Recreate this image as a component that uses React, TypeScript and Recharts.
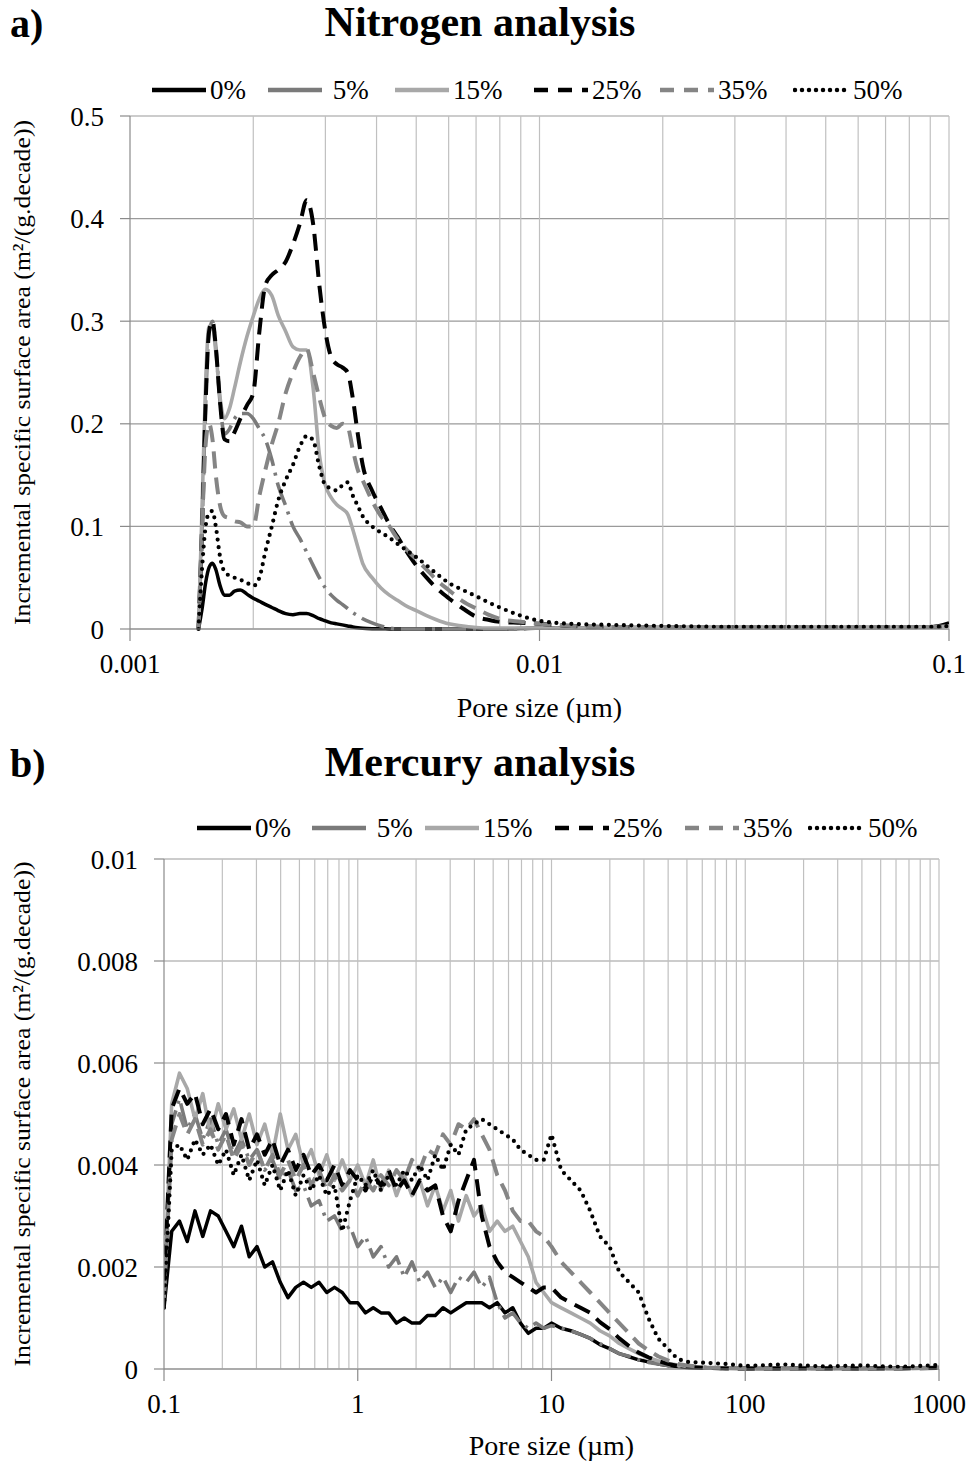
import React from 'react';
import { LineChart, Line, XAxis, YAxis, CartesianGrid, ReferenceLine, Legend, Label } from 'recharts';

const SERIF = '"Liberation Serif", "Times New Roman", serif';

// ---------- series definitions ----------
const seriesNames = ['0%', ' 5%', '15%', '25%', '35%', '50%'];
const seriesKeys = ['s0', 's5', 's15', 's25', 's35', 's50'];

// ---------- Nitrogen analysis (a) ----------
const nX = [0.00147, 0.0015, 0.00153, 0.00156, 0.00159, 0.00162, 0.00166, 0.0017, 0.00175, 0.0018,
  0.00186, 0.00193, 0.002, 0.00207, 0.00214, 0.00222, 0.0023, 0.0024, 0.0025, 0.0026,
  0.0027, 0.0028, 0.0029, 0.003, 0.0031, 0.0032, 0.0033, 0.0034, 0.0035, 0.0036,
  0.0037, 0.0039, 0.0041, 0.0043, 0.0045, 0.0048, 0.005, 0.0053, 0.0056, 0.006,
  0.0065, 0.007, 0.0075, 0.008, 0.009, 0.01, 0.012, 0.015, 0.02, 0.03,
  0.04, 0.05, 0.06, 0.07, 0.08, 0.09, 0.1];

const n0 = [0, 0.02, 0.045, 0.06, 0.064, 0.058, 0.042, 0.033, 0.033, 0.037,
  0.038, 0.034, 0.03, 0.027, 0.024, 0.021, 0.018, 0.015, 0.014, 0.015,
  0.015, 0.013, 0.01, 0.008, 0.006, 0.005, 0.004, 0.003, 0.002, 0.0012,
  0.0007, 0.0003, 0.0002, 0.0001, 0, 0, 0, 0, 0, 0,
  0, 0, 0, 0, 0.0005, 0.001, 0.001, 0.0015, 0.0015, 0.0015,
  0.0015, 0.0015, 0.0015, 0.0015, 0.002, 0.002, 0.006];

const n5 = [0, 0.1, 0.22, 0.29, 0.3, 0.275, 0.22, 0.19, 0.195, 0.205,
  0.21, 0.21, 0.205, 0.195, 0.185, 0.165, 0.14, 0.12, 0.1, 0.088,
  0.075, 0.062, 0.05, 0.04, 0.033, 0.028, 0.024, 0.02, 0.016, 0.013,
  0.01, 0.006, 0.003, 0.001, 0, 0, 0, 0, 0, 0,
  0, 0, 0, 0, 0, 0.001, 0.001, 0.001, 0.0015, 0.0015,
  0.0015, 0.0015, 0.0015, 0.0015, 0.0015, 0.002, 0.003];

const n15 = [0, 0.12, 0.24, 0.295, 0.295, 0.27, 0.225, 0.205, 0.215, 0.235,
  0.26, 0.285, 0.305, 0.322, 0.331, 0.325, 0.306, 0.29, 0.275, 0.272,
  0.272, 0.235, 0.17, 0.14, 0.128, 0.121, 0.117, 0.112, 0.097, 0.08,
  0.064, 0.05, 0.04, 0.033, 0.028, 0.021, 0.018, 0.013, 0.009, 0.005,
  0.003, 0.0015, 0.001, 0.001, 0.001, 0.001, 0.001, 0.0015, 0.0015, 0.0015,
  0.0015, 0.0015, 0.0015, 0.0015, 0.002, 0.002, 0.003];

const n25 = [0, 0.1, 0.22, 0.29, 0.3, 0.275, 0.22, 0.185, 0.183, 0.192,
  0.205, 0.218, 0.23, 0.29, 0.335, 0.345, 0.35, 0.358, 0.375, 0.395,
  0.418, 0.395, 0.335, 0.29, 0.265, 0.258, 0.255, 0.25, 0.225, 0.19,
  0.16, 0.135, 0.118, 0.102, 0.09, 0.072, 0.062, 0.05, 0.04, 0.03,
  0.02, 0.012, 0.009, 0.007, 0.006, 0.005, 0.003, 0.002, 0.002, 0.002,
  0.002, 0.002, 0.002, 0.002, 0.002, 0.002, 0.003];

const n35 = [0, 0.1, 0.18, 0.2, 0.185, 0.15, 0.12, 0.11, 0.108, 0.105,
  0.104, 0.1, 0.1, 0.13, 0.155, 0.18, 0.2, 0.23, 0.25, 0.265,
  0.273, 0.25, 0.225, 0.205, 0.198, 0.196, 0.2, 0.197, 0.175, 0.155,
  0.145, 0.125, 0.11, 0.1, 0.088, 0.075, 0.068, 0.058, 0.048, 0.038,
  0.027, 0.02, 0.014, 0.01, 0.007, 0.005, 0.003, 0.002, 0.002, 0.002,
  0.002, 0.002, 0.002, 0.002, 0.002, 0.002, 0.003];

const n50 = [0, 0.06, 0.1, 0.113, 0.115, 0.1, 0.07, 0.056, 0.052, 0.05,
  0.048, 0.045, 0.042, 0.05, 0.075, 0.1, 0.125, 0.145, 0.16, 0.178,
  0.188, 0.184, 0.158, 0.14, 0.137, 0.135, 0.14, 0.143, 0.13, 0.12,
  0.11, 0.1, 0.094, 0.089, 0.083, 0.075, 0.07, 0.062, 0.054, 0.045,
  0.038, 0.032, 0.026, 0.021, 0.013, 0.008, 0.005, 0.004, 0.003, 0.002,
  0.002, 0.002, 0.002, 0.002, 0.002, 0.002, 0.003];

const nXTicks = [0.001, 0.01, 0.1];
const nXMinor = [0.002, 0.003, 0.004, 0.005, 0.006, 0.007, 0.008, 0.009, 0.01,
  0.02, 0.03, 0.04, 0.05, 0.06, 0.07, 0.08, 0.09, 0.1];
const nYTicks = [0, 0.1, 0.2, 0.3, 0.4, 0.5];

// ---------- Mercury analysis (b) ----------
const mX = [0.1, 0.1096, 0.1202, 0.1318, 0.1445, 0.1585, 0.1738, 0.1905, 0.2089, 0.2291,
  0.2512, 0.2754, 0.302, 0.3311, 0.3631, 0.3981, 0.4365, 0.4786, 0.5248, 0.5754,
  0.631, 0.6918, 0.7586, 0.8318, 0.912, 1, 1.096, 1.202, 1.318, 1.445,
  1.585, 1.738, 1.905, 2.089, 2.291, 2.512, 2.754, 3.02, 3.311, 3.631,
  3.981, 4.365, 4.786, 5.248, 5.754, 6.31, 6.918, 7.586, 8.318, 9.12,
  10, 11.22, 12.59, 14.13, 15.85, 17.78, 19.95, 22.39, 25.12, 28.18,
  31.62, 35.48, 39.81, 44.67, 50.12, 63.1, 79.43, 100, 158.5, 251.2,
  398.1, 631, 1000];

const m0 = [0.0012, 0.0027, 0.0029, 0.0025, 0.0031, 0.0026, 0.0031, 0.003, 0.0027, 0.0024,
  0.0028, 0.0022, 0.0024, 0.002, 0.0021, 0.0017, 0.0014, 0.0016, 0.0017, 0.0016,
  0.0017, 0.0015, 0.0016, 0.0015, 0.0013, 0.0013, 0.0011, 0.0012, 0.0011, 0.0011,
  0.0009, 0.001, 0.0009, 0.0009, 0.00105, 0.00105, 0.0012, 0.0011, 0.0012, 0.0013,
  0.0013, 0.0013, 0.0012, 0.0013, 0.0011, 0.0012, 0.0009, 0.0007, 0.0008, 0.0008,
  0.0009, 0.0008, 0.00075, 0.00068, 0.0006, 0.00048, 0.0004, 0.0003, 0.00024, 0.00018,
  0.00014, 0.0001, 0.00007, 0.00005, 0.00003, 0.00002, 0.00002, 0.00001, 0.00001, 0.00002,
  0.00001, 0.00002, 0.00003];

const m5 = [0.0014, 0.0048, 0.0053, 0.0047, 0.005, 0.0045, 0.0049, 0.0044, 0.0047, 0.0042,
  0.0045, 0.0041, 0.0043, 0.0039, 0.0041, 0.0037, 0.0039, 0.0035, 0.0036, 0.0032,
  0.0033, 0.0029, 0.003, 0.0027, 0.0028, 0.0024, 0.0026, 0.0022, 0.0024, 0.002,
  0.0022, 0.0018, 0.0021, 0.0017, 0.0019, 0.0016, 0.0018, 0.0015, 0.0018, 0.0017,
  0.0019, 0.0016, 0.0018, 0.0013, 0.001, 0.0011, 0.0009, 0.0008, 0.0009, 0.0008,
  0.00085, 0.0008, 0.00075, 0.00068, 0.0006, 0.0005, 0.0004, 0.0003, 0.00025, 0.00018,
  0.00013, 0.0001, 0.00007, 0.00005, 0.00003, 0.00002, 0.00001, 0.00001, 0.00002, 0.00001,
  0.00001, 0.00002, 0.00002];

const m15 = [0.0015, 0.0052, 0.0058, 0.0055, 0.0049, 0.0054, 0.0046, 0.0052, 0.0047, 0.0051,
  0.0045, 0.005, 0.0044, 0.0048, 0.0042, 0.005, 0.0043, 0.0046, 0.004, 0.0043,
  0.0038, 0.0042, 0.0037, 0.0041, 0.0037, 0.004, 0.0036, 0.0041, 0.0035, 0.0039,
  0.0034, 0.0038, 0.0034, 0.0037, 0.0032, 0.0036, 0.0031, 0.0035, 0.0029, 0.0034,
  0.003, 0.0032, 0.0027, 0.0029, 0.0027, 0.0028, 0.0025, 0.0022, 0.0017, 0.0015,
  0.0013, 0.0012, 0.0011, 0.001, 0.0009, 0.00075, 0.00065, 0.0005, 0.0004, 0.0003,
  0.00022, 0.00016, 0.00011, 0.00008, 0.00005, 0.00003, 0.00002, 0.00001, 0.00001, 0.00001,
  0.00001, 0.00001, 0.00002];

const m25 = [0.0016, 0.0051, 0.0055, 0.0052, 0.0054, 0.0048, 0.0051, 0.0047, 0.005, 0.0044,
  0.0049, 0.0043, 0.0046, 0.0042, 0.0045, 0.004, 0.0043, 0.0039, 0.0042, 0.0038,
  0.004, 0.0037, 0.004, 0.0036, 0.0039, 0.0037, 0.0035, 0.0038, 0.0036, 0.0039,
  0.0035, 0.0037, 0.0034, 0.0037, 0.0035, 0.0036, 0.003, 0.0027, 0.0033, 0.0037,
  0.0041, 0.003, 0.0024, 0.0021, 0.0019, 0.0018, 0.0017, 0.0016, 0.0015, 0.0016,
  0.0016, 0.0014, 0.0013, 0.0012, 0.0011, 0.00092, 0.00078, 0.0006, 0.00045, 0.00032,
  0.00023, 0.00016, 0.0001, 0.00006, 0.00004, 0.00002, 0.00001, 0.00001, 0.00001, 0.00001,
  0.00001, 0.00001, 0.00002];

const m35 = [0.0014, 0.0045, 0.005, 0.0046, 0.0049, 0.0044, 0.0047, 0.0043, 0.0046, 0.0041,
  0.0044, 0.004, 0.0043, 0.0039, 0.0042, 0.0038, 0.0041, 0.0037, 0.004, 0.0036,
  0.0039, 0.0035, 0.0038, 0.0035, 0.0037, 0.0034, 0.0037, 0.0035, 0.0038, 0.0036,
  0.0039, 0.0037, 0.0041, 0.0039, 0.0043, 0.0042, 0.0046, 0.0044, 0.0048, 0.0047,
  0.0049, 0.0046, 0.0043, 0.0038, 0.0035, 0.0031, 0.0029, 0.0029, 0.0027, 0.0026,
  0.0024, 0.0021, 0.0019, 0.0017, 0.0015, 0.0013, 0.0011, 0.0009, 0.0007, 0.0005,
  0.00037, 0.00025, 0.00017, 0.0001, 0.00007, 0.00003, 0.00002, 0.00001, 0.00001, 0.00001,
  0.00001, 0.00001, 0.00002];

const m50 = [0.0012, 0.0043, 0.0044, 0.0041, 0.0045, 0.0042, 0.0044, 0.004, 0.0043, 0.0038,
  0.0042, 0.0037, 0.0041, 0.0036, 0.004, 0.0035, 0.0039, 0.0034, 0.0038, 0.0035,
  0.0038, 0.0034, 0.0036, 0.0027, 0.0033, 0.0038, 0.0036, 0.0039, 0.0035, 0.0038,
  0.0036, 0.0039, 0.0037, 0.004, 0.0037, 0.0042, 0.0039, 0.0044, 0.0042, 0.0047,
  0.0048, 0.0049, 0.0048, 0.0047, 0.0046, 0.0045, 0.0043, 0.0042, 0.0041, 0.0041,
  0.0046, 0.0039, 0.0037, 0.0035, 0.0031, 0.0026, 0.0024, 0.0019, 0.0017, 0.0015,
  0.001, 0.0006, 0.0004, 0.0002, 0.00014, 0.00012, 0.0001, 0.00006, 0.00009, 0.00005,
  0.00007, 0.00004, 0.00008];

const mXTicks = [0.1, 1, 10, 100, 1000];
const mXMinor = [0.2, 0.3, 0.4, 0.5, 0.6, 0.7, 0.8, 0.9, 1,
  2, 3, 4, 5, 6, 7, 8, 9, 10,
  20, 30, 40, 50, 60, 70, 80, 90, 100,
  200, 300, 400, 500, 600, 700, 800, 900, 1000];
const mYTicks = [0, 0.002, 0.004, 0.006, 0.008, 0.01];

// ---------- tables built from the arrays ----------
const nitrogenData = nX.map((x, i) => ({ x, s0: n0[i], s5: n5[i], s15: n15[i], s25: n25[i], s35: n35[i], s50: n50[i] }));
const mercuryData = mX.map((x, i) => ({ x, s0: m0[i], s5: m5[i], s15: m15[i], s25: m25[i], s35: m35[i], s50: m50[i] }));

// ---------- styles ----------
type Sty = { stroke: string; dash?: string; width: number; cap: 'butt' | 'round' };
const lineStyles: Sty[] = [
  { stroke: '#000000', width: 3.5, cap: 'butt' },
  { stroke: '#7a7a7a', dash: '24 7 3 7', width: 3.6, cap: 'butt' },
  { stroke: '#a8a8a8', width: 3.6, cap: 'butt' },
  { stroke: '#000000', dash: '17 9', width: 4, cap: 'butt' },
  { stroke: '#858585', dash: '17 9', width: 4, cap: 'butt' },
  { stroke: '#000000', dash: '0 7.5', width: 4.2, cap: 'round' },
];
const legendDash = [undefined, '40 0', undefined, '14 10', '14 10', '0 7'];

const GRID_H = '#9a9a9a';
const GRID_V = '#c0c0c0';
const AXIS = '#8a8a8a';

const makeLegend = (positions: number[]) => () => (
  <div style={{ position: 'relative', width: 971, height: 30 }}>
    {seriesNames.map((name, i) => (
      <div key={i} style={{ position: 'absolute', left: positions[i], top: 0, height: 30, display: 'flex', alignItems: 'center' }}>
        <svg width={58} height={30} style={{ display: 'block' }}>
          <line x1={2} y1={15} x2={56} y2={15} stroke={lineStyles[i].stroke} strokeWidth={4.5}
            strokeDasharray={legendDash[i]} strokeLinecap={lineStyles[i].cap} />
        </svg>
        <span style={{ fontFamily: SERIF, fontSize: 27, marginLeft: 2, whiteSpace: 'pre', color: '#000', lineHeight: '30px' }}>{name}</span>
      </div>
    ))}
  </div>
);

const YLabel = (props: any) => {
  const vb = props.viewBox || {};
  const cy = vb.y + vb.height / 2;
  return (
    <text x={22} y={cy} transform={`rotate(-90, 22, ${cy})`} textAnchor="middle" dominantBaseline="central"
      fontFamily={SERIF} fontSize={24} fill="#000" textLength={505} lengthAdjust="spacingAndGlyphs">
      Incremental  specific surface area (m²/(g.decade))
    </text>
  );
};

const makeXLabel = (y: number) => (props: any) => {
  const vb = props.viewBox || {};
  const cx = vb.x + vb.width / 2;
  return (
    <text x={cx} y={y} textAnchor="middle" dominantBaseline="central" fontFamily={SERIF} fontSize={28} fill="#000">
      Pore size (µm)
    </text>
  );
};

const tickStyle = { fontSize: 27, fill: '#000', fontFamily: SERIF };

type PanelProps = {
  data: any[];
  width: number;
  height: number;
  margin: { top: number; right: number; bottom: number; left: number };
  xDomain: [number, number];
  xTicks: number[];
  xMinor: number[];
  yDomain: [number, number];
  yTicks: number[];
  legendTop: number;
  legendPos: number[];
  xLabelY: number;
  curve: 'monotone' | 'linear';
};

const Panel = (p: PanelProps) => (
  <LineChart width={p.width} height={p.height} data={p.data} margin={p.margin}>
    <CartesianGrid vertical={false} stroke={GRID_H} strokeWidth={1.2} />
    {p.xMinor.map((v) => (
      <ReferenceLine key={v} x={v} stroke={GRID_V} strokeWidth={1.2} zIndex={-90} />
    ))}
    <XAxis dataKey="x" type="number" scale="log" domain={p.xDomain} ticks={p.xTicks} allowDataOverflow
      height={50} tickSize={12} tickMargin={13} tick={tickStyle} axisLine={{ stroke: AXIS, strokeWidth: 1.2 }}
      tickLine={{ stroke: AXIS, strokeWidth: 1.2 }} interval={0}>
      <Label content={makeXLabel(p.xLabelY)} />
    </XAxis>
    <YAxis type="number" domain={p.yDomain} ticks={p.yTicks} width={70} tickSize={10} tickMargin={16}
      tick={tickStyle} axisLine={{ stroke: AXIS, strokeWidth: 1.2 }} tickLine={{ stroke: AXIS, strokeWidth: 1.2 }}
      interval={0} tickFormatter={(v: number) => String(v)}>
      <Label content={YLabel} />
    </YAxis>
    <Legend verticalAlign="middle" align="center" layout="horizontal" content={makeLegend(p.legendPos)}
      wrapperStyle={{ top: p.legendTop, left: 0, width: 971, height: 30 }} />
    {seriesKeys.map((k, i) => (
      <Line key={k} type={p.curve} dataKey={k} name={seriesNames[i]} stroke={lineStyles[i].stroke}
        strokeWidth={lineStyles[i].width} strokeDasharray={lineStyles[i].dash} strokeLinecap={lineStyles[i].cap}
        strokeLinejoin="round" dot={false} activeDot={false} isAnimationActive={false} />
    ))}
  </LineChart>
);

const titleStyle: React.CSSProperties = {
  position: 'absolute', fontFamily: SERIF, fontWeight: 'bold', fontSize: 42, lineHeight: '42px', color: '#000', whiteSpace: 'nowrap',
};

export default function App() {
  return (
    <div style={{ position: 'absolute', left: 0, top: 0, width: 971, height: 1462, background: '#fff', overflow: 'hidden' }}>
      <div style={{ ...titleStyle, left: 10, top: 3, fontSize: 40 }}>a)</div>
      <div style={{ ...titleStyle, left: 0, width: 960, textAlign: 'center', top: 1 }}>Nitrogen analysis</div>
      <div style={{ ...titleStyle, left: 10, top: 743, fontSize: 40 }}>b)</div>
      <div style={{ ...titleStyle, left: 0, width: 960, textAlign: 'center', top: 741 }}>Mercury analysis</div>

      <div style={{ position: 'absolute', left: 0, top: 0 }}>
        <Panel data={nitrogenData} width={971} height={730}
          margin={{ top: 116, right: 22, bottom: 51, left: 60 }}
          xDomain={[0.001, 0.1]} xTicks={nXTicks} xMinor={nXMinor}
          yDomain={[0, 0.5]} yTicks={nYTicks}
          legendTop={75} legendPos={[150, 266, 393, 532, 658, 793]}
          xLabelY={707} curve="monotone" />
      </div>
      <div style={{ position: 'absolute', left: 0, top: 730 }}>
        <Panel data={mercuryData} width={971} height={732}
          margin={{ top: 129, right: 32, bottom: 43, left: 94 }}
          xDomain={[0.1, 1000]} xTicks={mXTicks} xMinor={mXMinor}
          yDomain={[0, 0.01]} yTicks={mYTicks}
          legendTop={83} legendPos={[195, 310, 423, 553, 683, 808]}
          xLabelY={715} curve="linear" />
      </div>
    </div>
  );
}
